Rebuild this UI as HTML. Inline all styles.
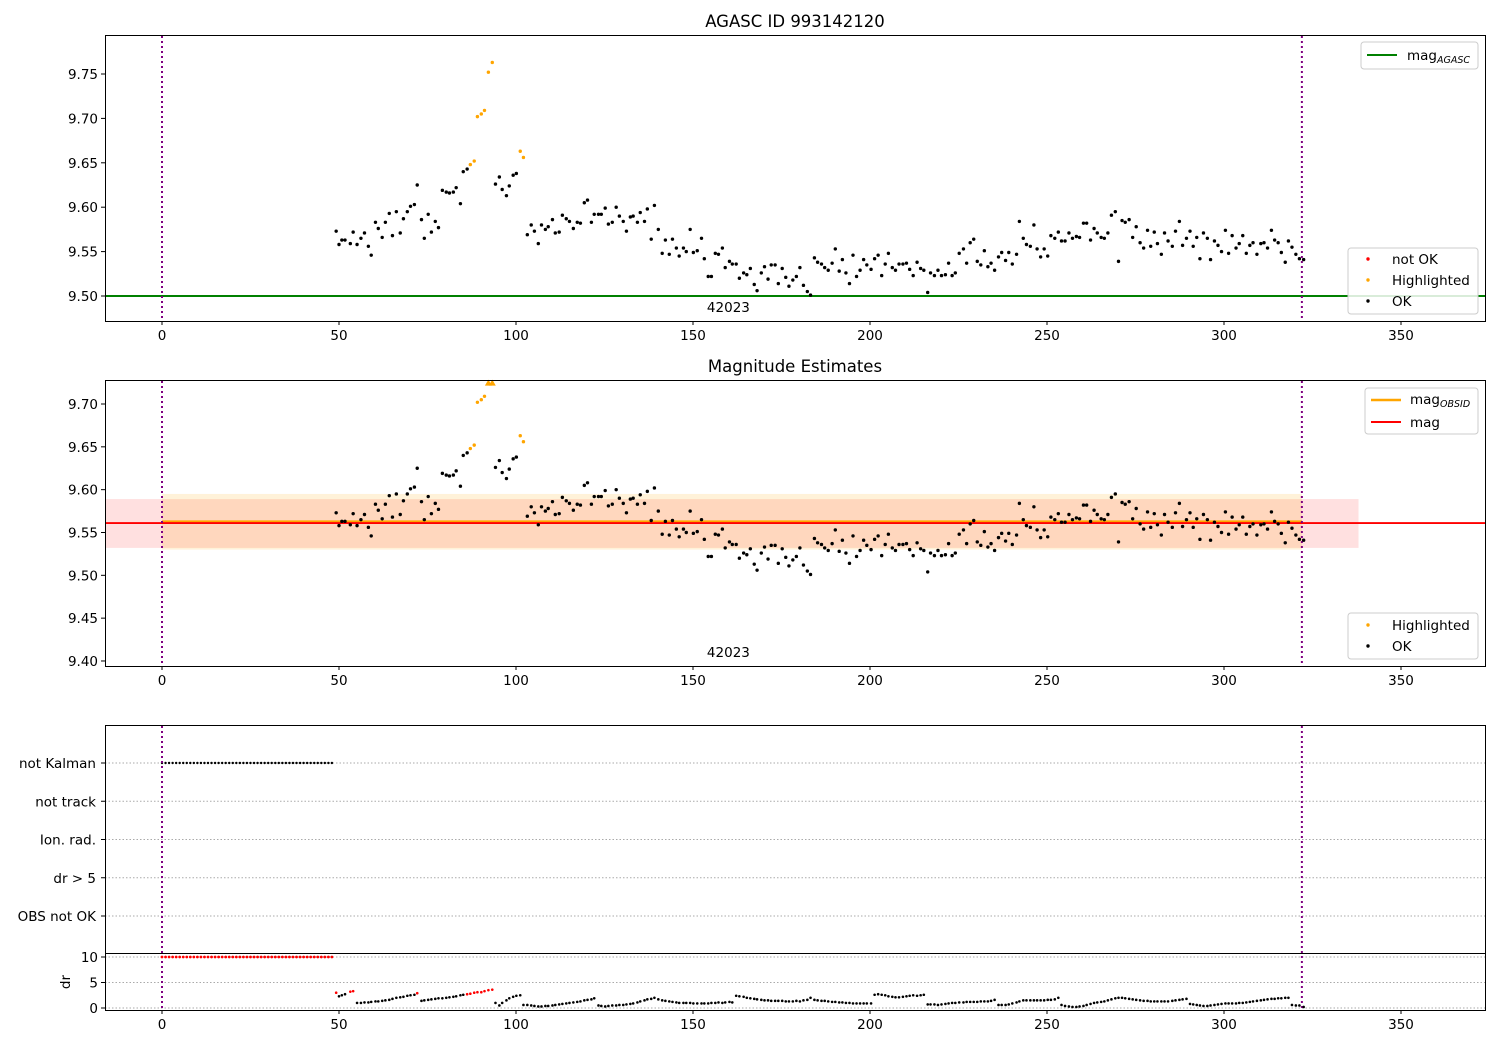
<!DOCTYPE html>
<html><head><meta charset="utf-8">
<style>
html,body{margin:0;padding:0;background:#fff;}
svg{display:block;font-family:"DejaVu Sans","Liberation Sans",sans-serif;}
</style></head>
<body>
<svg id="fig" width="1500" height="1050" viewBox="0 0 1500 1050" xmlns="http://www.w3.org/2000/svg">
<rect width="1500" height="1050" fill="#fff"/>
<text x="795" y="27" font-size="16.5" text-anchor="middle">AGASC ID 993142120</text>
<text x="795" y="372" font-size="16.5" text-anchor="middle">Magnitude Estimates</text>
<g id="layer"></g>
</svg>
<script>
const T=[49.2,50.0,50.8,51.7,53.2,54.0,55.1,56.2,57.2,58.3,
59.1,60.3,61.1,62.2,63.1,64.2,65.1,66.2,67.3,68.2,
69.3,70.2,71.3,72.1,73.3,74.1,75.2,76.1,77.2,78.1,
79.2,80.3,81.2,82.3,83.1,84.3,85.1,86.2,87.1,88.2,
89.1,90.2,91.1,92.2,93.3,94.2,95.3,96.1,97.3,98.1,
99.2,100.1,101.2,102.1,103.2,104.3,105.2,106.3,107.2,108.3,
109.1,110.3,111.1,112.2,113.1,114.2,115.1,116.2,117.3,118.2,
119.3,120.2,121.3,122.1,123.3,124.1,125.2,126.1,127.2,128.3,
129.2,130.3,131.2,132.3,133.1,134.3,135.1,136.3,137.1,138.2,
139.1,140.2,141.3,142.2,143.3,144.2,145.3,146.1,147.3,148.1,
149.2,150.1,151.2,152.4,153.2,154.3,155.2,156.3,157.2,158.3,
159.1,160.3,161.1,162.2,163.1,
164.3,165.2,166.2,167.3,168.1,169.3,170.2,171.2,172.1,173.2,
174.1,175.2,176.2,177.1,178.2,179.2,180.2,181.2,182.3,183.2,
184.3,185.2,186.3,187.2,188.2,189.3,190.2,191.3,192.2,193.2,
194.2,195.2,196.2,197.2,198.2,199.1,200.3,201.3,202.3,203.3,
204.3,205.2,206.3,207.2,208.2,209.3,210.3,211.2,212.2,213.3,
214.3,215.2,216.3,217.1,218.2,219.2,220.2,221.3,222.2,223.2,
224.1,225.2,226.4,227.3,228.3,229.3,230.3,231.3,232.3,233.3,
234.2,235.2,236.3,237.2,238.3,239.2,240.2,241.4,242.2,243.3,
244.2,245.3,246.3,247.2,248.2,249.2,250.2,251.1,252.2,253.2,
254.1,255.1,256.2,257.2,258.3,259.2,260.3,261.2,262.3,263.3,
264.2,265.3,266.2,267.2,268.2,269.3,270.2,271.2,272.1,273.2,
274.2,275.2,276.3,277.3,278.4,279.3,280.3,281.2,282.3,283.2,
284.2,285.4,286.3,287.4,288.3,289.4,290.4,291.3,292.3,293.2,
294.2,295.3,296.2,297.3,298.3,299.3,300.4,301.3,302.3,303.4,
304.3,305.3,306.3,307.3,308.2,309.3,310.4,311.3,312.3,313.4,
314.3,315.3,316.2,317.3,318.2,319.2,320.3,321.3,322.5];
const MAG=[9.573,9.558,9.563,9.563,9.559,9.572,9.558,9.565,9.571,9.556,
9.546,9.583,9.576,9.566,9.583,9.593,9.568,9.595,9.571,9.587,
9.595,9.601,9.603,9.625,9.586,9.565,9.592,9.572,9.584,9.577,
9.619,9.617,9.616,9.617,9.622,9.604,9.640,9.643,9.648,9.652,
9.702,9.705,9.709,9.752,9.763,9.626,9.634,9.620,9.613,9.624,
9.636,9.638,9.663,9.656,9.569,9.580,9.573,9.559,9.580,9.575,
9.578,9.586,9.571,9.572,9.591,9.587,9.584,9.576,9.583,9.582,
9.605,9.608,9.583,9.592,9.592,9.592,9.599,9.581,9.583,9.600,
9.590,9.584,9.573,9.589,9.590,9.583,9.594,9.584,9.598,9.564,
9.602,9.575,9.548,9.563,9.547,9.564,9.554,9.545,9.554,9.550,
9.575,9.549,9.551,9.565,9.542,9.522,9.522,9.548,9.547,9.554,
9.532,9.539,9.536,9.536,9.520,
9.526,9.524,9.531,9.513,9.506,9.526,9.533,9.519,9.535,9.535,
9.514,9.531,9.521,9.511,9.518,9.522,9.532,9.512,9.505,9.501,
9.543,9.538,9.536,9.532,9.529,9.537,9.553,9.528,9.541,9.526,
9.514,9.546,9.522,9.529,9.541,9.535,9.530,9.542,9.546,9.523,
9.536,9.548,9.532,9.529,9.536,9.536,9.537,9.530,9.523,9.538,
9.531,9.529,9.504,9.526,9.523,9.529,9.523,9.524,9.537,9.523,
9.526,9.548,9.553,9.537,9.560,9.564,9.539,9.535,9.551,9.533,
9.537,9.529,9.544,9.549,9.540,9.549,9.536,9.547,9.584,9.565,
9.558,9.556,9.580,9.553,9.544,9.553,9.545,9.568,9.565,9.572,
9.562,9.562,9.571,9.565,9.567,9.566,9.582,9.582,9.563,9.576,
9.571,9.566,9.565,9.571,9.591,9.595,9.539,9.585,9.583,9.586,
9.566,9.578,9.560,9.554,9.574,9.556,9.572,9.559,9.547,9.571,
9.562,9.556,9.573,9.584,9.557,9.565,9.573,9.556,9.566,9.542,
9.571,9.565,9.541,9.562,9.557,9.550,9.574,9.548,9.568,9.554,
9.559,9.568,9.548,9.557,9.560,9.547,9.559,9.560,9.554,9.574,
9.563,9.560,9.549,9.538,9.562,9.555,9.547,9.542,9.541];
const DR=[3.0,2.3,2.5,2.7,3.2,3.3,1.0,1.0,1.1,1.1,
1.2,1.3,1.3,1.4,1.5,1.6,1.8,2.0,2.1,2.2,
2.4,2.5,2.6,2.9,1.4,1.5,1.6,1.7,1.8,1.9,
1.9,2.0,2.1,2.2,2.3,2.5,2.6,2.7,2.8,3.0,
3.1,3.1,3.3,3.5,3.6,1.0,0.5,1.0,1.5,1.9,
2.2,2.4,2.5,0.6,0.6,0.5,0.4,0.3,0.3,0.4,
0.4,0.5,0.6,0.7,0.8,0.9,1.0,1.1,1.2,1.3,
1.5,1.6,1.7,1.9,0.5,0.4,0.3,0.4,0.5,0.5,
0.6,0.6,0.7,0.8,0.9,1.1,1.3,1.5,1.7,1.8,
2.0,1.7,1.5,1.4,1.3,1.2,1.1,1.0,1.0,1.0,
1.0,0.9,0.9,0.9,0.9,0.9,1.0,1.0,1.1,1.0,
1.1,1.2,1.1,2.4,2.3,
2.2,2.0,1.9,1.8,1.7,1.6,1.5,1.5,1.4,1.4,
1.4,1.4,1.3,1.3,1.3,1.4,1.3,1.5,1.6,2.0,
1.6,1.5,1.4,1.4,1.3,1.2,1.2,1.1,1.1,1.0,
1.0,0.9,0.9,0.9,0.9,0.9,0.9,2.6,2.7,2.6,
2.5,2.3,2.2,2.1,2.1,2.2,2.3,2.4,2.5,2.4,
2.5,2.6,0.7,0.7,0.7,0.6,0.7,0.8,0.9,1.0,
1.0,1.1,1.1,1.2,1.2,1.2,1.2,1.3,1.3,1.3,
1.4,1.6,0.6,0.6,0.6,0.7,0.9,1.1,1.3,1.5,
1.5,1.5,1.5,1.5,1.5,1.5,1.6,1.6,1.7,2.0,
0.6,0.4,0.3,0.2,0.2,0.3,0.4,0.6,0.8,1.0,
1.1,1.2,1.3,1.5,1.7,1.9,2.0,2.0,1.9,1.8,
1.7,1.6,1.5,1.4,1.4,1.3,1.3,1.3,1.3,1.3,
1.3,1.4,1.5,1.6,1.7,1.8,0.8,0.7,0.6,0.5,
0.4,0.4,0.5,0.6,0.7,0.8,0.9,0.9,0.9,0.9,
1.0,1.0,1.1,1.2,1.3,1.4,1.5,1.6,1.7,1.8,
1.8,1.9,1.9,2.0,2.0,0.6,0.5,0.5,0.2];
const HIGHLIGHT_T=[87.1,88.2,89.1,90.2,91.1,92.2,93.3,101.2,102.1];
const DR_RED_T=[49.2,53.2,54.0,72.1,86.2,87.1,88.2,89.1,90.2,91.1,92.2,93.3];
const EARLY_T=[0,1,2,3,4,5,6,7,8,9,10,11,12,13,14,15,16,17,18,19,20,21,22,23,24,25,26,27,28,29,30,31,32,33,34,35,36,37,38,39,40,41,42,43,44,45,46,47,48];
const EARLY_DR=10;
const MAG_AGASC=9.50, MAG_OBSID=9.563, MAG_MEAN=9.561;
const OBSID_BAND=[9.530,9.595], OBSID_RANGE=[0,322];
const MAG_BAND=[9.532,9.589], MAG_RANGE=[-16,338];
const OBS_START=0, OBS_END=322;
const X_TICKS=[0,50,100,150,200,250,300,350];
const Y1_TICKS=[9.50,9.55,9.60,9.65,9.70,9.75];
const Y2_TICKS=[9.40,9.45,9.50,9.55,9.60,9.65,9.70];
const DR_TICKS=[0,5,10];
const FLAG_LABELS=["not Kalman","not track","Ion. rad.","dr > 5","OBS not OK"];

const NS="http://www.w3.org/2000/svg";
const L=document.getElementById('layer');
function mk(tag,attrs,parent){const e=document.createElementNS(NS,tag);for(const k in attrs)e.setAttribute(k,attrs[k]);(parent||L).appendChild(e);return e;}
const X=t=>162+t*3.54;
const Y1=m=>296-(m-9.5)*888;
const Y2=m=>404-(m-9.70)*856.6;
const YF=i=>763+i*38.25;
const YD=d=>1008-d*5.1;
const near=(arr,t)=>arr.some(v=>Math.abs(v-t)<0.05);

function frame(y0,y1,name){
  const r=mk('rect',{x:105.5,y:y0+0.5,width:1380,height:y1-y0,fill:'none',stroke:'#000','stroke-width':1});
  
  
}
function xaxis(yb,name){
  const g=mk('g',{});
  
  
  X_TICKS.forEach(v=>{
    mk('line',{x1:X(v),x2:X(v),y1:yb,y2:yb+4,stroke:'#000'},g);
    const t=mk('text',{x:X(v),y:yb+19,'font-size':13.5,'text-anchor':'middle'},g);
    t.textContent=v;
    
    
  });
}
function yaxis(ticks,fy,fmt,name){
  const g=mk('g',{});
  
  
  ticks.forEach(v=>{
    mk('line',{x1:101,x2:105,y1:fy(v),y2:fy(v),stroke:'#000'},g);
    const t=mk('text',{x:98,y:fy(v)+5,'font-size':13.5,'text-anchor':'end'},g);
    t.textContent=fmt(v);
    
    
  });
}
function vlines(y0,y1){
  [OBS_START,OBS_END].forEach(v=>{
    const l=mk('line',{x1:X(v),x2:X(v),y1:y0,y2:y1,stroke:'#800080','stroke-width':2,'stroke-dasharray':'2,3'});
    
    
  });
}
function dot(x,y,c,r,name){
  const d=mk('circle',{cx:x,cy:y,r:r||1.7,fill:c});
  
  
}
function legendBox(x,y,w,h,name){
  const r=mk('rect',{x:x,y:y,width:w,height:h,rx:3,fill:'#fff','fill-opacity':0.85,stroke:'#ccc'});
  
  
}
function ltext(x,y,s,name,sub){
  const t=mk('text',{x:x,y:y,'font-size':13.5});
  t.textContent=s;
  if(sub){const ts=mk('tspan',{'font-size':9.5,'font-style':'italic',dy:3},t);ts.textContent=sub;}
  
  
}

/* ---------- Panel 1 ---------- */
const agl=mk('line',{x1:105,x2:1485,y1:Y1(MAG_AGASC),y2:Y1(MAG_AGASC),stroke:'#008000','stroke-width':2});


vlines(36,321);
T.forEach((t,i)=>{
  const hl=near(HIGHLIGHT_T,t);
  dot(X(t),Y1(MAG[i]),hl?'#ffa500':'#000',1.7,hl?'highlighted-point':'ok-point');
});
frame(35,321,'top-axes');
xaxis(321,'top-x-axis');
yaxis(Y1_TICKS,Y1,v=>v.toFixed(2),'top-y-axis');
let tx=mk('text',{x:X(160),y:312,'font-size':13.5,'text-anchor':'middle'});tx.textContent='42023';


legendBox(1361,42,117,27,'top-legend');
mk('line',{x1:1367,x2:1397,y1:55,y2:55,stroke:'#008000','stroke-width':2});
ltext(1407,60,'mag','legend-mag-agasc','AGASC');
legendBox(1348,248,130,66,'status-legend');
dot(1368,259,'#ff0000',1.7,'legend-not-ok-marker');
ltext(1392,264,'not OK','legend-not-ok');
dot(1368,280,'#ffa500',1.7,'legend-highlighted-marker');
ltext(1392,285,'Highlighted','legend-highlighted');
dot(1368,301,'#000',1.7,'legend-ok-marker');
ltext(1392,306,'OK','legend-ok');

/* ---------- Panel 2 ---------- */
const b1=mk('rect',{x:X(MAG_RANGE[0]),y:Y2(MAG_BAND[1]),width:X(MAG_RANGE[1])-X(MAG_RANGE[0]),height:Y2(MAG_BAND[0])-Y2(MAG_BAND[1]),fill:'#ff0000','fill-opacity':0.12});


const b2=mk('rect',{x:X(OBSID_RANGE[0]),y:Y2(OBSID_BAND[1]),width:X(OBSID_RANGE[1])-X(OBSID_RANGE[0]),height:Y2(OBSID_BAND[0])-Y2(OBSID_BAND[1]),fill:'#ffa500','fill-opacity':0.15});


const ol=mk('line',{x1:X(OBSID_RANGE[0]),x2:X(OBSID_RANGE[1]),y1:Y2(MAG_OBSID),y2:Y2(MAG_OBSID),stroke:'#ffa500','stroke-width':2});


const ml=mk('line',{x1:105,x2:1485,y1:Y2(MAG_MEAN),y2:Y2(MAG_MEAN),stroke:'#ff0000','stroke-width':1.8});


vlines(381,666);
const Y2MAX=9.725;
T.forEach((t,i)=>{
  const hl=near(HIGHLIGHT_T,t);
  const c=hl?'#ffa500':'#000';
  if(MAG[i]>Y2MAX){
    const x=X(t),y=Y2(Y2MAX);
    const p=mk('path',{d:`M${x-3.5},${y+3} L${x+3.5},${y+3} L${x},${y-3} Z`,fill:c});
    
    
  } else dot(X(t),Y2(MAG[i]),c,1.7,hl?'highlighted-point':'ok-point');
});
frame(380,666,'middle-axes');
xaxis(666,'middle-x-axis');
yaxis(Y2_TICKS,Y2,v=>v.toFixed(2),'middle-y-axis');
tx=mk('text',{x:X(160),y:657,'font-size':13.5,'text-anchor':'middle'});tx.textContent='42023';


legendBox(1365,388,113,46,'mag-legend');
mk('line',{x1:1371,x2:1401,y1:400,y2:400,stroke:'#ffa500','stroke-width':2.5});
ltext(1410,404,'mag','legend-mag-obsid','OBSID');
mk('line',{x1:1371,x2:1401,y1:422,y2:422,stroke:'#ff0000','stroke-width':2});
ltext(1410,427,'mag','legend-mag');
legendBox(1348,613,130,46,'status-legend-2');
dot(1368,625,'#ffa500',1.7,'legend-highlighted-marker');
ltext(1392,630,'Highlighted','legend-highlighted');
dot(1368,646,'#000',1.7,'legend-ok-marker');
ltext(1392,651,'OK','legend-ok');

/* ---------- Panel 3 flags ---------- */
FLAG_LABELS.forEach((s,i)=>{
  const g=mk('line',{x1:105,x2:1485,y1:YF(i),y2:YF(i),stroke:'#aaa','stroke-dasharray':'1.5,2'});
  
  
  mk('line',{x1:101,x2:105,y1:YF(i),y2:YF(i),stroke:'#000'});
  const t=mk('text',{x:96,y:YF(i)+5,'font-size':13.5,'text-anchor':'end'});t.textContent=s;
  
  
});
EARLY_T.forEach(t=>{
  dot(X(t),YF(0),'#000',1.2,'not-kalman-point');
});
/* dr panel */
DR_TICKS.forEach(v=>{
  const g=mk('line',{x1:105,x2:1485,y1:YD(v),y2:YD(v),stroke:'#aaa','stroke-dasharray':'1.5,2'});
  
  
});
vlines(726,1010);
EARLY_T.forEach(t=>{
  dot(X(t),YD(EARLY_DR),'#ff0000',1.4,'dr-point-bad');
});
T.forEach((t,i)=>{
  const bad=near(DR_RED_T,t);
  dot(X(t),YD(DR[i]),bad?'#ff0000':'#000',1.3,bad?'dr-point-bad':'dr-point');
});
frame(725,953,'flags-axes');
frame(953,1010,'dr-axes');
xaxis(1010,'bottom-x-axis');
yaxis(DR_TICKS,YD,v=>String(v),'dr-y-axis');
const dl=mk('text',{x:70,y:982,'font-size':13.5,'text-anchor':'middle',transform:'rotate(-90 70 982)'});dl.textContent='dr';


</script>
</body></html>
